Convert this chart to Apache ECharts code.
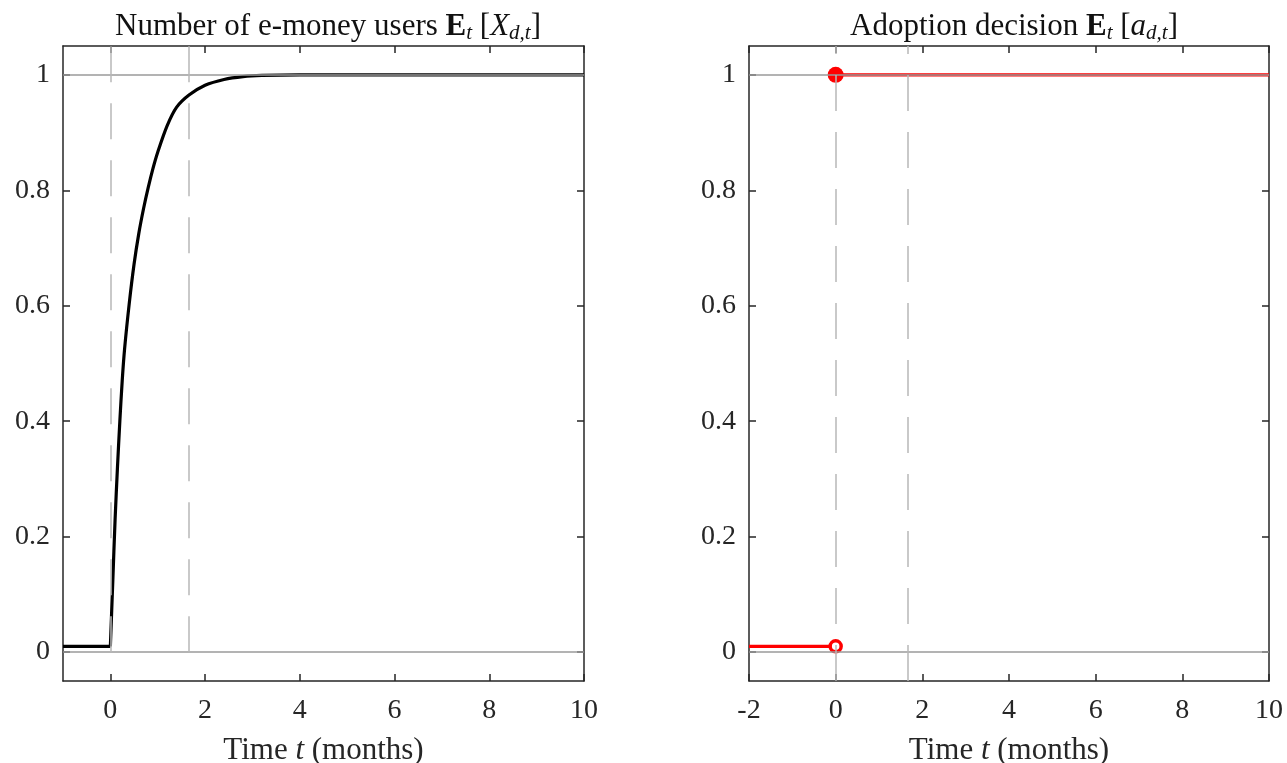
<!DOCTYPE html>
<html>
<head>
<meta charset="utf-8">
<script src="https://cdn.jsdelivr.net/npm/echarts@6/dist/echarts.min.js"></script>
<style>html,body{margin:0;padding:0;background:#fff}#c{width:1287px;height:763px}</style>
</head>
<body>
<div id="c"></div>
<script>
// ---- data ----
const usersPreT = [-1, 0];
const usersPreV = [0.01, 0.01];
const usersT = [0, 0.05, 0.1, 0.15, 0.2, 0.25, 0.3, 0.4, 0.5, 0.6, 0.7, 0.8, 0.9, 1.0, 1.2, 1.4, 1.66, 2.0, 2.4, 2.8, 3.2, 4.0, 10];
const usersV = [0.01, 0.12, 0.23, 0.32, 0.40, 0.47, 0.525, 0.605, 0.672, 0.725, 0.768, 0.805, 0.838, 0.866, 0.912, 0.944, 0.965, 0.982, 0.992, 0.997, 0.999, 1.0, 1.0];
const adoptPreT = [-2, 0];
const adoptPreV = [0.01, 0.01];
const adoptPostT = [0, 10];
const adoptPostV = [1, 1];
const refH = [0, 1];
const refV = [0, 1.66];
const xTicksLeft = [0, 2, 4, 6, 8, 10];
const xTicksRight = [-2, 0, 2, 4, 6, 8, 10];
const yTicks = [0, 0.2, 0.4, 0.6, 0.8, 1];

const FONT = "'Liberation Serif', 'Times New Roman', serif";
const AX = '#262626';
const FS = 28;   // tick labels
const FT = 31;   // titles & axis names

const chart = echarts.init(document.getElementById('c'), null, {renderer: 'canvas'});

function pairs(a, b) { return a.map((v, i) => [v, b[i]]); }

function xAx(grid, min, max, ticks, top) {
  return {
    type: 'value', gridIndex: grid, min: min, max: max, position: top ? 'top' : 'bottom',
    axisLine: {show: true, onZero: false, lineStyle: {color: AX, width: 1.5}},
    axisTick: {show: true, inside: true, length: 7, customValues: ticks, lineStyle: {color: AX, width: 1.5}},
    axisLabel: top ? {show: false} : {show: true, customValues: ticks, fontSize: FS, fontFamily: FONT, color: AX, margin: 16},
    splitLine: {show: false},
    name: top ? '' : 'Time {i|t} (months)',
    nameLocation: 'middle', nameGap: 54,
    nameTextStyle: {fontSize: FT, fontFamily: FONT, color: AX, rich: {i: {fontStyle: 'italic', fontSize: FT, fontFamily: FONT, color: AX}}}
  };
}
function yAx(grid, right) {
  return {
    type: 'value', gridIndex: grid, min: -0.05, max: 1.05, position: right ? 'right' : 'left',
    axisLine: {show: true, onZero: false, lineStyle: {color: AX, width: 1.5}},
    axisTick: {show: true, inside: true, length: 7, customValues: yTicks, lineStyle: {color: AX, width: 1.5}},
    axisLabel: right ? {show: false} : {show: true, customValues: yTicks, fontSize: FS, fontFamily: FONT, color: AX, margin: 13, formatter: v => String(v)},
    splitLine: {show: false}
  };
}
const titleRich = {
  b: {fontWeight: 'bold', fontSize: FT, fontFamily: FONT, color: '#111'},
  i: {fontStyle: 'italic', fontSize: FT, fontFamily: FONT, color: '#111'},
  s: {fontStyle: 'italic', fontSize: 21, fontFamily: FONT, color: '#111', padding: [13, 0, 0, 0]}
};
function refSeries(xi, yi, vBottom) {
  return {
    type: 'line', xAxisIndex: xi, yAxisIndex: yi, data: [], z: 1, silent: true,
    markLine: {
      silent: true, symbol: 'none', animation: false, label: {show: false},
      data: refH.map(v => ({yAxis: v, lineStyle: {color: '#9a9a9a', width: 1.5, type: 'solid'}}))
        .concat(refV.map(v => [{coord: [v, vBottom], lineStyle: {color: '#b8b8b8', width: 1.5, type: [36, 21]}}, {coord: [v, 1.05]}]))
    }
  };
}

const option = {
  animation: false,
  backgroundColor: '#fff',
  title: [
    {text: 'Number of e-money users {b|E}{s|t} [{i|X}{s|d,t}]', left: 323, top: 5, textAlign: 'center',
     textStyle: {fontSize: FT, fontFamily: FONT, color: '#111', fontWeight: 'normal', rich: titleRich}},
    {text: 'Adoption decision {b|E}{s|t} [{i|a}{s|d,t}]', left: 1009, top: 5, textAlign: 'center',
     textStyle: {fontSize: FT, fontFamily: FONT, color: '#111', fontWeight: 'normal', rich: titleRich}}
  ],
  grid: [
    {left: 63, right: 703, top: 46, bottom: 82, containLabel: false, outerBoundsMode: 'none'},
    {left: 749, right: 18, top: 46, bottom: 82, containLabel: false, outerBoundsMode: 'none'}
  ],
  xAxis: [
    xAx(0, -1, 10, xTicksLeft, false),
    xAx(0, -1, 10, xTicksLeft, true),
    xAx(1, -2, 10, xTicksRight, false),
    xAx(1, -2, 10, xTicksRight, true)
  ],
  yAxis: [yAx(0, false), yAx(0, true), yAx(1, false), yAx(1, true)],
  series: [
    refSeries(0, 0, 0),
    refSeries(2, 2, -0.05),
    {type: 'line', xAxisIndex: 0, yAxisIndex: 0, data: pairs(usersPreT, usersPreV), symbol: 'none',
     lineStyle: {color: '#000', width: 3.2}, z: 3},
    {type: 'line', xAxisIndex: 0, yAxisIndex: 0, data: pairs(usersT, usersV), showSymbol: false, symbol: 'none',
     smooth: 0.3, lineStyle: {color: '#000', width: 3.2}, z: 3},
    {type: 'line', xAxisIndex: 2, yAxisIndex: 2, data: pairs(adoptPreT, adoptPreV), symbol: 'none',
     lineStyle: {color: '#ff0000', width: 3.4}, z: 3},
    {type: 'line', xAxisIndex: 2, yAxisIndex: 2, data: pairs(adoptPostT, adoptPostV), symbol: 'none',
     lineStyle: {color: '#ff0000', width: 3.4}, z: 3},
    {type: 'scatter', xAxisIndex: 2, yAxisIndex: 2, data: [[adoptPreT[adoptPreT.length - 1], adoptPreV[adoptPreV.length - 1]]],
     symbol: 'circle', symbolSize: 11, itemStyle: {color: '#fff', borderColor: '#ff0000', borderWidth: 3.5, opacity: 1}, z: 4},
    {type: 'scatter', xAxisIndex: 2, yAxisIndex: 2, data: [[adoptPostT[0], adoptPostV[0]]],
     symbol: 'circle', symbolSize: 16, itemStyle: {color: '#ff0000', opacity: 1}, z: 4}
  ]
};
chart.setOption(option);
</script>
</body>
</html>
